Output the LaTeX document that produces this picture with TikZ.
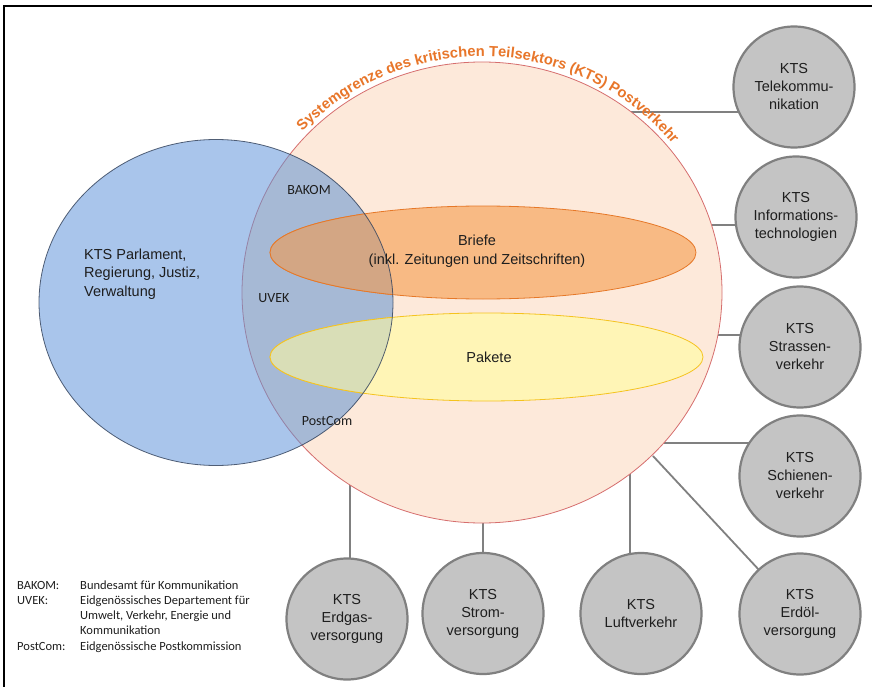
\documentclass[tikz,border=0pt]{standalone}
\usepackage{fontspec}
\setmainfont{Liberation Sans}
\newfontfamily\carlito{Carlito}
\usetikzlibrary{shapes.geometric,decorations.text,calc}
\pgfdeclarelayer{bg}
\pgfsetlayers{bg,main}
\definecolor{peach}{RGB}{253,233,218}
\definecolor{peachedge}{RGB}{214,110,110}
\definecolor{govblue}{RGB}{169,197,235}
\definecolor{govedge}{RGB}{55,70,95}
\definecolor{ovl}{RGB}{166,185,213}
\definecolor{mauve}{RGB}{150,130,165}
\definecolor{briefe}{RGB}{248,186,132}
\definecolor{briefeovl}{RGB}{211,166,132}
\definecolor{briefeedge}{RGB}{230,120,40}
\definecolor{pakete}{RGB}{255,245,182}
\definecolor{paketeovl}{RGB}{217,222,183}
\definecolor{paketeedge}{RGB}{245,195,30}
\definecolor{ktsgrey}{RGB}{196,196,196}
\definecolor{ktsgreyedge}{RGB}{128,128,128}
\definecolor{connc}{RGB}{128,128,128}
\definecolor{ktsorange}{RGB}{232,118,42}
\definecolor{txt}{RGB}{30,30,30}
\begin{document}
\begin{tikzpicture}[x=1pt,y=-1pt,
  sector/.style={circle, fill=ktsgrey, draw=ktsgreyedge, line width=2.2pt, minimum size=121pt, inner sep=0pt, align=center, font=\fontsize{14.5}{18}\selectfont, text=txt},
  conn/.style={draw=connc, line width=1.8pt},
  abbr/.style={font=\carlito\fontsize{14}{16}\selectfont, inner sep=0pt, text=txt},
  legend/.style={font=\carlito\fontsize{12.5}{15}\selectfont, inner sep=0pt, anchor=base west, text=txt},
  maintxt/.style={font=\fontsize{14.5}{18.5}\selectfont, inner sep=0pt, text=txt},
  edge/.style={line width=0.8pt}
]
\useasboundingbox (0,0) rectangle (872,687);
\begin{pgfonlayer}{bg}
  \fill[white] (0,0) rectangle (872,687);
\end{pgfonlayer}
\draw[line width=2pt] (4,6) rectangle (900,720);

% system boundary circle and government circle
\node[ellipse, minimum width=480pt, minimum height=461pt, inner sep=0pt, fill=peach, draw=peachedge, edge] (kts) at (482,292.5) {};
\node[ellipse, minimum width=354pt, minimum height=326pt, inner sep=0pt, fill=govblue] (gov) at (216,302.5) {};
\begin{scope}
  \clip (216,302.5) ellipse [x radius=177pt, y radius=163pt];
  \fill[ovl] (482,292.5) ellipse [x radius=240pt, y radius=230.5pt];
  \draw[mauve, edge] (482,292.5) ellipse [x radius=240pt, y radius=230.5pt];
\end{scope}

% Briefe
\node[ellipse, minimum width=426pt, minimum height=93pt, inner sep=0pt, fill=briefe, draw=briefeedge, edge] (briefe) at (483,252.5) {};
\begin{scope}
  \clip (216,302.5) ellipse [x radius=177pt, y radius=163pt];
  \fill[briefeovl] (483,252.5) ellipse [x radius=213pt, y radius=46.5pt];
  \draw[briefeedge, edge] (483,252.5) ellipse [x radius=213pt, y radius=46.5pt];
\end{scope}

% Pakete
\node[ellipse, minimum width=433pt, minimum height=88pt, inner sep=0pt, fill=pakete, draw=paketeedge, edge] (pakete) at (486.5,357) {};
\begin{scope}
  \clip (216,302.5) ellipse [x radius=177pt, y radius=163pt];
  \fill[paketeovl] (486.5,357) ellipse [x radius=216.5pt, y radius=44pt];
  \draw[paketeedge, edge] (486.5,357) ellipse [x radius=216.5pt, y radius=44pt];
\end{scope}

% blue border on top
\draw[govedge, edge, opacity=0.85] (216,302.5) ellipse [x radius=177pt, y radius=163pt];

% texts inside
\node[maintxt, align=left, anchor=west] (govtxt) at (84,274) {KTS Parlament,\\Regierung, Justiz,\\Verwaltung};
\node[abbr] (bakom) at (309,190) {BAKOM};
\node[abbr] (uvek) at (274,298) {UVEK};
\node[abbr] (postcom) at (327,421) {PostCom};
\node[maintxt, align=center, font=\fontsize{14.5}{19}\selectfont] (brieftxt) at (477,251) {Briefe\\(inkl. Zeitungen und Zeitschriften)};
\node[maintxt] (pakettxt) at (489,357) {Pakete};

% curved title
\path[decorate, decoration={text along path, text align=center, text color=ktsorange,
  text={|\fontsize{14.7}{17}\selectfont\bfseries|Systemgrenze des kritischen Teilsektors (KTS) Postverkehr}}]
  ($(kts.center)+(150:245pt and 236pt)$) arc[start angle=150, end angle=26, x radius=245pt, y radius=236pt];

% sector circles
\node[sector] (tele) at (794,87) {KTS\\Telekommu-\\nikation};
\node[sector] (info) at (796,217) {KTS\\Informations-\\technologien};
\node[sector] (strassen) at (800,347) {KTS\\Strassen-\\verkehr};
\node[sector] (schienen) at (800,476) {KTS\\Schienen-\\verkehr};
\node[sector] (erdoel) at (800,614) {KTS\\Erdöl-\\versorgung};
\node[sector] (luft) at (641,613.5) {KTS\\Luftverkehr};
\node[sector] (strom) at (483,613.5) {KTS\\Strom-\\versorgung};
\node[sector] (erdgas) at (347,619) {KTS\\Erdgas-\\versorgung};

% connector start points on the system boundary
\coordinate (c1) at (631,112);
\coordinate (c2) at (711.5,225);
\coordinate (c3) at (718,335);
\coordinate (c4) at (664,443);
\coordinate (c5) at (653,456);
\coordinate (c6) at (630,474);
\coordinate (c7) at (483,522.7);
\coordinate (c8) at (350,485);
\begin{pgfonlayer}{bg}
  \draw[conn] (c1) -- (c1 -| tele.center);
  \draw[conn] (c2) -- (c2 -| info.center);
  \draw[conn] (c3) -- (c3 -| strassen.center);
  \draw[conn] (c4) -- (c4 -| schienen.center);
  \draw[conn] (c5) -- (erdoel.center);
  \draw[conn] (c6) -- (c6 |- luft.center);
  \draw[conn] (c7) -- (c7 |- strom.center);
  \draw[conn] (c8) -- (c8 |- erdgas.center);
\end{pgfonlayer}

% legend
\node[legend] (l1a) at (17,589) {BAKOM:};
\node[legend] (l1b) at (80,589) {Bundesamt für Kommunikation};
\node[legend] (l2a) at (17,604.3) {UVEK:};
\node[legend] (l2b) at (80,604.3) {Eidgenössisches Departement für};
\node[legend] (l3b) at (80,619.5) {Umwelt, Verkehr, Energie und};
\node[legend] (l4b) at (80,634.8) {Kommunikation};
\node[legend] (l5a) at (17,650) {PostCom:};
\node[legend] (l5b) at (80,650) {Eidgenössische Postkommission};
\end{tikzpicture}
\end{document}
